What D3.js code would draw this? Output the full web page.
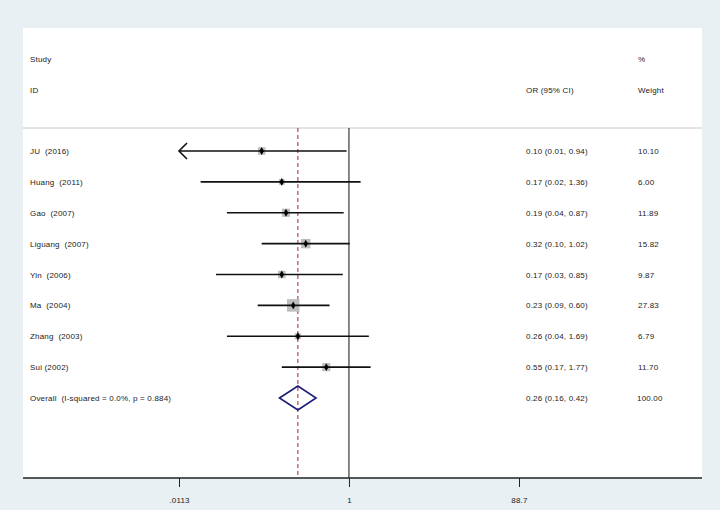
<!DOCTYPE html>
<html>
<head>
<meta charset="utf-8">
<script src="https://cdn.jsdelivr.net/npm/d3@7"></script>
<style>
  body { margin: 0; background: #e8f0f3; }
  svg { display: block; }
  text { font-family: "Liberation Sans", Arial, sans-serif; font-size: 8px; fill: #222; white-space: pre; letter-spacing: 0.18px; }
</style>
</head>
<body>
<div id="chart"></div>
<script>
// study rows
var studies = ["JU  (2016)", "Huang  (2011)", "Gao  (2007)", "Liguang  (2007)",
               "Yin  (2006)", "Ma  (2004)", "Zhang  (2003)", "Sui (2002)"];
var orVal  = [0.10, 0.17, 0.19, 0.32, 0.17, 0.23, 0.26, 0.55];
var ciLow  = [0.01, 0.02, 0.04, 0.10, 0.03, 0.09, 0.04, 0.17];
var ciHigh = [0.94, 1.36, 0.87, 1.02, 0.85, 0.60, 1.69, 1.77];
var weight = [10.10, 6.00, 11.89, 15.82, 9.87, 27.83, 6.79, 11.70];
// pooled estimate
var overallLabel = "Overall  (I-squared = 0.0%, p = 0.884)";
var overall = [0.26, 0.16, 0.42];
var overallWeight = 100.00;
// axis
var tickVals = [0.0113, 1, 88.7];
var tickLabels = [".0113", "1", "88.7"];

var W = 720, H = 510;
var panel = {left: 23, right: 702, top: 28, bottom: 478};
var headerLine = 128;

var svg = d3.select('#chart').append('svg').attr('width', W).attr('height', H);

svg.append('rect')
   .attr('x', panel.left).attr('y', panel.top)
   .attr('width', panel.right - panel.left).attr('height', panel.bottom - panel.top)
   .attr('fill', '#fff');

// log scale, clipped at the outer ticks
var x = d3.scaleLog().domain([tickVals[0], tickVals[2]]).range([179, 519]);
var rows = studies.concat([overallLabel]);
var y = d3.scalePoint().domain(rows).range([151, 398]);

var fmt = d3.format('.2f');
var ciText = function (o, l, h) { return fmt(o) + ' (' + fmt(l) + ', ' + fmt(h) + ')'; };

// headers
var colStudy = 30, colOR = 526, colW = 638;
svg.append('text').attr('x', colStudy).attr('y', 62).text('Study');
svg.append('text').attr('x', colStudy).attr('y', 93).text('ID');
svg.append('text').attr('x', colW).attr('y', 62).text('%');
svg.append('text').attr('x', colW).attr('y', 93).text('Weight');
svg.append('text').attr('x', colOR).attr('y', 93).text('OR (95% CI)');

svg.append('line')
   .attr('x1', panel.left).attr('x2', panel.right)
   .attr('y1', headerLine).attr('y2', headerLine)
   .attr('stroke', '#c8c8c8').attr('stroke-width', 1);

// null line and pooled line
svg.append('line')
   .attr('x1', x(1)).attr('x2', x(1))
   .attr('y1', headerLine).attr('y2', panel.bottom)
   .attr('stroke', '#111').attr('stroke-width', 1);
svg.append('line')
   .attr('x1', x(overall[0])).attr('x2', x(overall[0]))
   .attr('y1', headerLine).attr('y2', panel.bottom)
   .attr('stroke', '#a3262e').attr('stroke-width', 1)
   .attr('stroke-dasharray', '4,3');

// study rows
var data = studies.map(function (s, i) {
    return {name: s, or: orVal[i], lo: ciLow[i], hi: ciHigh[i], w: weight[i]};
});
var maxW = d3.max(weight);
var g = svg.append('g');
data.forEach(function (d) {
    var yy = y(d.name);
    var lo = Math.max(d.lo, tickVals[0]);
    var side = 12.5 * Math.sqrt(d.w / maxW);
    g.append('rect')
     .attr('x', x(d.or) - side / 2).attr('y', yy - side / 2)
     .attr('width', side).attr('height', side)
     .attr('fill', '#bdbdbd');
    g.append('line')
     .attr('x1', x(lo)).attr('x2', x(d.hi))
     .attr('y1', yy).attr('y2', yy)
     .attr('stroke', '#111').attr('stroke-width', 1.6);
    if (d.lo < tickVals[0]) {
        // truncated CI gets an open arrow
        var ax = x(lo);
        g.append('path')
         .attr('d', 'M' + (ax + 8) + ',' + (yy - 8) + 'L' + ax + ',' + yy + 'L' + (ax + 8) + ',' + (yy + 8))
         .attr('fill', 'none').attr('stroke', '#111').attr('stroke-width', 1.6);
    }
    g.append('path')
     .attr('transform', 'translate(' + x(d.or) + ',' + yy + ')')
     .attr('d', d3.symbol(d3.symbolDiamond, 18)())
     .attr('fill', '#000');
    g.append('text').attr('x', colStudy).attr('y', yy + 3).text(d.name);
    g.append('text').attr('x', colOR).attr('y', yy + 3).text(ciText(d.or, d.lo, d.hi));
    g.append('text').attr('x', colW).attr('y', yy + 3).text(fmt(d.w));
});

// pooled diamond
var oy = y(overallLabel);
svg.append('path')
   .attr('d', 'M' + x(overall[1]) + ',' + oy + 'L' + x(overall[0]) + ',' + (oy - 12) +
              'L' + x(overall[2]) + ',' + oy + 'L' + x(overall[0]) + ',' + (oy + 12) + 'Z')
   .attr('fill', 'none').attr('stroke', '#1c1c78').attr('stroke-width', 1.6);
svg.append('text').attr('x', colStudy).attr('y', oy + 3).text(overallLabel);
svg.append('text').attr('x', colOR).attr('y', oy + 3).text(ciText(overall[0], overall[1], overall[2]));
svg.append('text').attr('x', colW - 1).attr('y', oy + 3).text(fmt(overallWeight));

// x axis
var axis = svg.append('g')
   .attr('transform', 'translate(0,' + panel.bottom + ')')
   .call(d3.axisBottom(x).tickValues(tickVals).tickSize(9).tickPadding(10)
           .tickFormat(function (d, i) { return tickLabels[i]; }));
axis.select('.domain').remove();
axis.selectAll('.tick line').attr('stroke', '#222');
axis.selectAll('.tick text').attr('font-size', 8).attr('font-family', '"Liberation Sans", Arial, sans-serif').attr('fill', '#222');
axis.append('line')
   .attr('x1', panel.left).attr('x2', panel.right)
   .attr('y1', 0).attr('y2', 0)
   .attr('stroke', '#222').attr('stroke-width', 1.5);
</script>
</body>
</html>
